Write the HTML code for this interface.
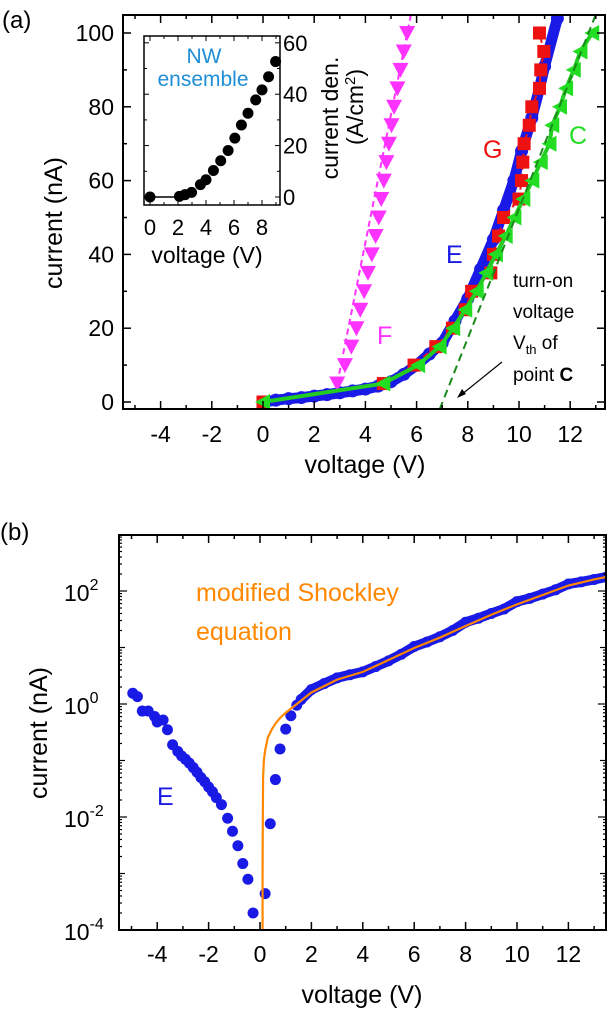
<!DOCTYPE html>
<html><head><meta charset="utf-8">
<style>
html,body{margin:0;padding:0;background:#fff;}
svg{display:block;font-family:"Liberation Sans",Arial,sans-serif;}
</style></head>
<body>
<svg id="fig" width="609" height="1012" viewBox="0 0 609 1012" xmlns="http://www.w3.org/2000/svg">
<text x="0" y="540" font-size="24">(b)</text>
<g id="pa"></g>
<g id="pb"></g>
</svg>
<script>
// ---------- Panel (a) data ----------
const aXTicks = [-4,-2,0,2,4,6,8,10,12];
const aYTicks = [0,20,40,60,80,100];
const fX = [2.9,3.2,3.45,3.65,3.8,3.95,4.1,4.25,4.4,4.52,4.62,4.72,4.82,4.92,5.02,5.12,5.25,5.37,5.5,5.63];
const fY = [5,10,15,20,25,30,35,40,45,50,55,60,65,70,75,80,85,90,95,100];
const gX = [0,4.7,5.9,6.75,7.4,7.9,8.15,8.9,9.0,9.2,9.4,10.0,10.1,10.15,10.2,10.4,10.5,10.8,10.85,10.97,10.8];
const gY = [0,5,10,15,20,25,30,35,40,45,50,55,60,65,70,75,80,85,90,95,100];
const cX = [0,4.7,6.06,6.9,7.43,7.9,8.35,8.72,9.1,9.48,9.82,10.17,10.52,10.85,11.19,11.3,11.6,11.84,12.14,12.4,12.86];
const cY = [0,5,10,15,20,25,30,35,40,45,50,55,60,65,70,75,80,85,90,95,100];
const eX = [0,0.5,1,1.5,2,2.5,3,3.5,4,4.5,5,5.5,6,6.5,7,7.5,8,8.5,9,9.4,9.8,10.1,10.5,10.8,11,11.5];
const eY = [0,0.5,0.9,1.2,1.6,2.0,2.5,3.0,3.5,4.3,5.5,7.5,10,13,16,22,28,36,44,52,60,68,77,85,91,104];
const vthLineX = [6.9,13.0];
const vthLineY = [-2,105];
const insetXTicks = [0,2,4,6,8];
const insetYTicks = [0,20,40,60];
const insetX = [0,2.1,2.5,2.97,3.6,4.0,4.53,5.05,5.58,6.06,6.53,7.0,7.55,8.0,8.47,8.97];
const insetY = [0,0.26,0.9,1.8,4.8,6.7,10.3,14.1,18.1,22.9,28,32.6,37.8,41.7,46.8,52.7];
// ---------- Panel (b) data ----------
const bXTicks = [-4,-2,0,2,4,6,8,10,12];
const bYExp = [-4,-2,0,2];
const revX = [-4.95,-4.77,-4.58,-4.35,-4.1,-4.0,-3.77,-3.6,-3.4,-3.2,-3.05,-2.9,-2.75,-2.6,-2.45,-2.3,-2.15,-2.0,-1.85,-1.7,-1.5,-1.26,-1.07,-0.86,-0.67,-0.47,-0.27];
const revY = [1.55,1.35,0.75,0.75,0.6,0.48,0.52,0.35,0.19,0.145,0.12,0.105,0.09,0.075,0.062,0.05,0.042,0.034,0.028,0.022,0.0166,0.0095,0.0056,0.0031,0.0015,0.00079,0.0002];
const fwdX = [0.2,0.4,0.6,0.78,1.0,1.2,1.43,1.6,2,2.5,3,3.5,4,4.5,5,5.5,6,6.5,7,7.5,8,8.5,9,9.5,10,10.5,11,11.5,12,12.5,13,13.5];
const fwdY = [0.00044,0.0076,0.046,0.16,0.36,0.62,0.95,1.2,1.8,2.3,2.9,3.3,3.7,4.6,5.8,7.6,10.4,12.5,15.5,20,28,33,40,48,65,74,88,105,133,145,160,178];
const fitX = [0.1,0.1,0.11,0.12,0.15,0.2,0.3,0.45,0.6,0.8,1.0,1.3,1.6,2,3,4,5,6,7,8,9,10,11,12,13,13.5];
const fitY = [0.0001,0.001,0.01,0.05,0.1,0.15,0.25,0.35,0.45,0.58,0.7,0.9,1.15,1.6,2.7,3.7,6,9.8,15,24,38,58,85,125,160,178];

const NS='http://www.w3.org/2000/svg';
function mk(parent,tag,attrs,txt){const e=document.createElementNS(NS,tag);for(const k in attrs)e.setAttribute(k,attrs[k]);if(txt!==undefined)e.textContent=txt;parent.appendChild(e);return e;}

const ax=v=>263+(v)*25.6, ay=v=>402-v*3.69;
const ix=v=>150+v*14, iy=v=>197-v*2.57;
const pa=document.getElementById('pa');
const A={l:123,r:605,t:15,b:409};

const gE=mk(pa,'g',{});


mk(gE,'polyline',{points:eX.map((v,i)=>ax(v)+','+ay(eY[i])).join(' '),fill:'none',stroke:'#1a1ae6','stroke-width':11,'stroke-linejoin':'round'});
eX.forEach((v,i)=>{const c=mk(gE,'circle',{cx:ax(v),cy:ay(eY[i]),r:6.5,fill:'#1a1ae6'});});
mk(gE,'polyline',{points:eX.map((v,i)=>ax(v)+','+ay(eY[i])).join(' '),fill:'none',stroke:'#1a1ae6','stroke-width':2,'stroke-dasharray':'6,4'});

const gF=mk(pa,'g',{});


mk(gF,'line',{x1:ax(fX[0]),y1:ay(fY[0]),x2:ax(fX[fX.length-1]+0.15),y2:ay(105),stroke:'#ff33ff','stroke-width':2,'stroke-dasharray':'6,4'});
fX.forEach((v,i)=>{const x=ax(v),y=ay(fY[i]);const p=mk(gF,'polygon',{points:`${x-8},${y-7} ${x+8},${y-7} ${x},${y+8}`,fill:'#ff33ff'});});

const gG=mk(pa,'g',{});


mk(gG,'polyline',{points:gX.map((v,i)=>ax(v)+','+ay(gY[i])).join(' '),fill:'none',stroke:'#ee1111','stroke-width':2,'stroke-dasharray':'6,4'});
gX.forEach((v,i)=>{const p=mk(gG,'rect',{x:ax(v)-6.5,y:ay(gY[i])-6.5,width:13,height:13,fill:'#ee1111'});});

const gC=mk(pa,'g',{});


mk(gC,'polyline',{points:cX.map((v,i)=>ax(v)+','+ay(cY[i])).join(' '),fill:'none',stroke:'#22cc22','stroke-width':4});
cX.forEach((v,i)=>{const x=ax(v),y=ay(cY[i]);const p=mk(gC,'polygon',{points:`${x-8},${y} ${x+7},${y-8} ${x+7},${y+8}`,fill:'#22dd22'});});
const vl=mk(pa,'line',{x1:ax(vthLineX[0]),y1:ay(vthLineY[0]),x2:ax(vthLineX[1]),y2:ay(vthLineY[1]),stroke:'#1a8a1a','stroke-width':2,'stroke-dasharray':'8,5'});



mk(pa,'rect',{x:0,y:0,width:609,height:A.t,fill:'#fff'});
mk(pa,'rect',{x:A.r+1,y:0,width:10,height:A.b,fill:'#fff'});
let t=mk(pa,'text',{x:2,y:28,'font-size':24},'(a)');

const fa=mk(pa,'rect',{x:A.l,y:A.t,width:A.r-A.l,height:A.b-A.t,fill:'none',stroke:'#000','stroke-width':2});


for(let v=-5;v<=13;v++){const x=ax(v);const L=v%2===0?8:4;mk(pa,'line',{x1:x,y1:A.b,x2:x,y2:A.b-L,stroke:'#000','stroke-width':1.5});mk(pa,'line',{x1:x,y1:A.t,x2:x,y2:A.t+L,stroke:'#000','stroke-width':1.5});}
for(let v=0;v<=100;v+=10){const y=ay(v);const L=v%20===0?8:4;mk(pa,'line',{x1:A.l,y1:y,x2:A.l+L,y2:y,stroke:'#000','stroke-width':1.5});mk(pa,'line',{x1:A.r,y1:y,x2:A.r-L,y2:y,stroke:'#000','stroke-width':1.5});}
aXTicks.forEach(v=>{const t=mk(pa,'text',{x:ax(v),y:442,'font-size':23,'text-anchor':'middle'},String(v));});
aYTicks.forEach(v=>{const t=mk(pa,'text',{x:114,y:ay(v)+8,'font-size':23,'text-anchor':'end'},String(v));});
t=mk(pa,'text',{x:365,y:473,'font-size':25,'text-anchor':'middle'},'voltage (V)');
t=mk(pa,'text',{x:0,y:0,'font-size':25,'text-anchor':'middle',transform:'translate(62,223) rotate(-90)'},'current (nA)');

t=mk(pa,'text',{x:377,y:344,'font-size':25,fill:'#ff33ff'},'F');
t=mk(pa,'text',{x:446,y:263,'font-size':25,fill:'#1a1ae6'},'E');
t=mk(pa,'text',{x:483,y:158,'font-size':25,fill:'#ee1111'},'G');
t=mk(pa,'text',{x:569,y:144,'font-size':25,fill:'#22dd22'},'C');
const ann=mk(pa,'g',{'font-size':19});


mk(ann,'text',{x:513,y:287},'turn-on');
mk(ann,'text',{x:513,y:318},'voltage');
const vt=mk(ann,'text',{x:513,y:349},'V');mk(vt,'tspan',{'font-size':13,dy:5},'th');mk(vt,'tspan',{dy:-5},' of');
const pt=mk(ann,'text',{x:513,y:381},'point ');mk(pt,'tspan',{'font-weight':'bold'},'C');
mk(ann,'line',{x1:502,y1:362,x2:461,y2:395,stroke:'#000','stroke-width':1.2});
mk(ann,'polygon',{points:'457,398 462,389 466,394',fill:'#000'});

const ins=mk(pa,'g',{});


mk(ins,'rect',{x:144,y:36,width:136,height:169,fill:'#fff',stroke:'#000','stroke-width':1.5});
for(let v=0;v<=9;v++){const x=ix(v);const L=v%2===0?5:3;mk(ins,'line',{x1:x,y1:205,x2:x,y2:205-L,stroke:'#000'});mk(ins,'line',{x1:x,y1:36,x2:x,y2:36+L,stroke:'#000'});}
for(let v=0;v<=60;v+=10){const y=iy(v);const L=v%20===0?5:3;mk(ins,'line',{x1:144,y1:y,x2:144+L,y2:y,stroke:'#000'});mk(ins,'line',{x1:280,y1:y,x2:280-L,y2:y,stroke:'#000'});}
mk(ins,'line',{x1:ix(0),y1:iy(0),x2:ix(2),y2:iy(0),stroke:'#000','stroke-width':1.5});
insetX.forEach((v,i)=>{const c=mk(ins,'circle',{cx:ix(v),cy:iy(insetY[i]),r:5.5,fill:'#000'});});
insetXTicks.forEach(v=>mk(ins,'text',{x:ix(v),y:235,'font-size':22,'text-anchor':'middle'},String(v)));
insetYTicks.forEach(v=>mk(ins,'text',{x:283,y:iy(v)+8,'font-size':22},String(v)));
mk(ins,'text',{x:207,y:263,'font-size':23,'text-anchor':'middle'},'voltage (V)');
mk(ins,'text',{x:204,y:63,'font-size':21,'text-anchor':'middle',fill:'#1e8fd6'},'NW');
mk(ins,'text',{x:203,y:86,'font-size':21,'text-anchor':'middle',fill:'#1e8fd6'},'ensemble');
mk(ins,'text',{x:0,y:0,'font-size':23,'text-anchor':'middle',transform:'translate(338,118) rotate(-90)'},'current den.');
const cm=mk(ins,'text',{x:0,y:0,'font-size':23,'text-anchor':'middle',transform:'translate(363,107) rotate(-90)'},'(A/cm');mk(cm,'tspan',{'font-size':15,dy:-8},'2');mk(cm,'tspan',{dy:8},')');

// ---------- panel b ----------
const pb=document.getElementById('pb');
const B={l:119,r:606,t:535,b:930};
const bx=v=>260+v*25.7, by=v=>704-Math.log10(v)*56.5;
const clip=mk(pb,'clipPath',{id:'cb'});mk(clip,'rect',{x:B.l,y:B.t,width:B.r-B.l,height:B.b-B.t});
const bd=mk(pb,'g',{'clip-path':'url(#cb)'});
const gR=mk(bd,'g',{});


const fwdBandStart=7;
mk(gR,'polyline',{points:fwdX.slice(fwdBandStart).map((v,i)=>bx(v)+','+by(fwdY[i+fwdBandStart])).join(' '),fill:'none',stroke:'#1a1ae6','stroke-width':10,'stroke-linejoin':'round'});
revX.forEach((v,i)=>{const c=mk(gR,'circle',{cx:bx(v),cy:by(revY[i]),r:5.5,fill:'#1a1ae6'});});
fwdX.forEach((v,i)=>{const c=mk(gR,'circle',{cx:bx(v),cy:by(fwdY[i]),r:5.5,fill:'#1a1ae6'});});
const fit=mk(bd,'polyline',{points:fitX.map((v,i)=>bx(v)+','+by(fitY[i])).join(' '),fill:'none',stroke:'#ff8800','stroke-width':2.2});


const fb=mk(pb,'rect',{x:B.l,y:B.t,width:B.r-B.l,height:B.b-B.t,fill:'none',stroke:'#000','stroke-width':2});


for(let v=-5;v<=13;v++){const x=bx(v);const L=v%2===0?8:4;mk(pb,'line',{x1:x,y1:B.b,x2:x,y2:B.b-L,stroke:'#000','stroke-width':1.5});mk(pb,'line',{x1:x,y1:B.t,x2:x,y2:B.t+L,stroke:'#000','stroke-width':1.5});}
for(let e=-4;e<3;e++){for(let m=1;m<10;m++){const y=by(m*Math.pow(10,e));const L=m===1?(e%2===0?8:6):3;mk(pb,'line',{x1:B.l,y1:y,x2:B.l+L,y2:y,stroke:'#000','stroke-width':1.2});mk(pb,'line',{x1:B.r,y1:y,x2:B.r-L,y2:y,stroke:'#000','stroke-width':1.2});}}
bXTicks.forEach(v=>{const t=mk(pb,'text',{x:bx(v),y:962,'font-size':23,'text-anchor':'middle'},String(v));});
bYExp.forEach(e=>{const t=mk(pb,'text',{x:64,y:by(Math.pow(10,e))+10,'font-size':23},'10');mk(t,'tspan',{'font-size':16,dy:-11},String(e));});
t=mk(pb,'text',{x:362,y:1003,'font-size':25,'text-anchor':'middle'},'voltage (V)');
t=mk(pb,'text',{x:0,y:0,'font-size':25,'text-anchor':'middle',transform:'translate(47,733) rotate(-90)'},'current (nA)');
t=mk(pb,'text',{x:196,y:601,'font-size':25,fill:'#ff8800'},'modified Shockley');
mk(pb,'text',{x:196,y:640,'font-size':25,fill:'#ff8800'},'equation');
t=mk(pb,'text',{x:157,y:805,'font-size':25,fill:'#1a1ae6'},'E');
</script>
</body></html>
